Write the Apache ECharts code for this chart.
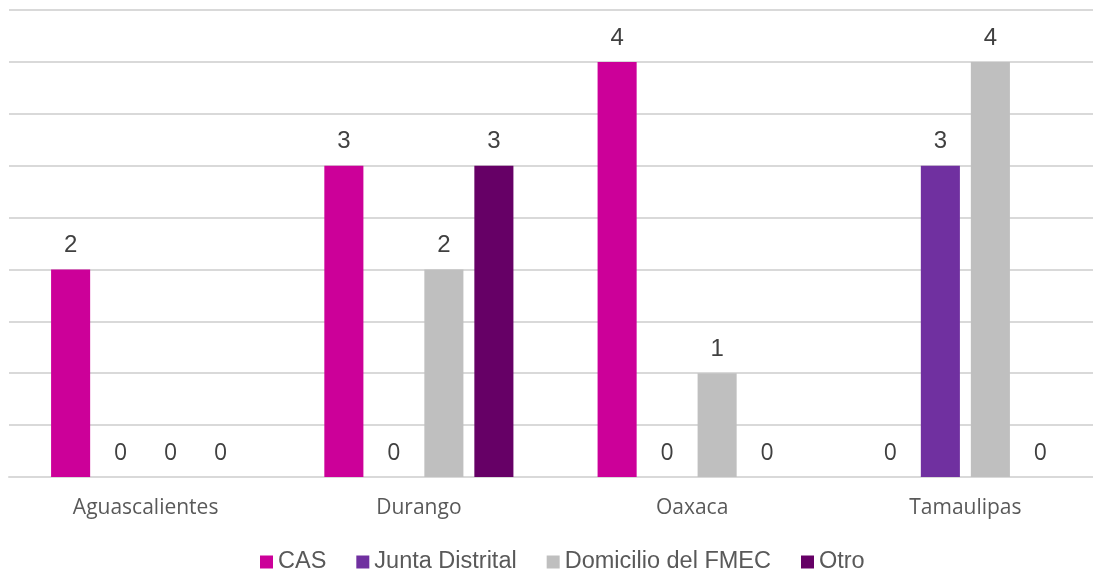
<!DOCTYPE html>
<html><head><meta charset="utf-8">
<script src="https://cdn.jsdelivr.net/npm/echarts@6/dist/echarts.min.js"></script>
<style>html,body{margin:0;padding:0;background:#fff;overflow:hidden}#c{width:1093px;height:572px}</style>
</head><body><div id="c"></div>
<script>
const categories = ["Aguascalientes", "Durango", "Oaxaca", "Tamaulipas"];
const seriesNames = ["CAS", "Junta Distrital", "Domicilio del FMEC", "Otro"];
const cas = [2, 3, 4, 0];
const junta = [0, 0, 0, 3];
const domicilio = [0, 2, 1, 4];
const otro = [0, 3, 0, 0];
const colors = ["#CC0099", "#7030A0", "#BFBFBF", "#660066"];
const values = [cas, junta, domicilio, otro];

const chart = echarts.init(document.getElementById('c'));
chart.setOption({
  animation: false,
  grid: { left: 9, width: 1093, top: 10, bottom: 95, containLabel: false, outerBoundsMode: 'none' },
  legend: {
    top: 545, left: 255,
    itemWidth: 13, itemHeight: 13, itemGap: 30,
    icon: 'rect',
    textStyle: { fontFamily: 'Liberation Sans', fontSize: 23.5, color: '#595959' },
    data: seriesNames
  },
  xAxis: {
    type: 'category', data: categories,
    axisLine: { lineStyle: { color: '#D9D9D9', width: 2 } },
    axisTick: { show: false },
    axisLabel: { fontFamily: 'Open Sans', fontSize: 21, color: '#595959', margin: 21 }
  },
  yAxis: {
    type: 'value', min: 0, max: 4.5, interval: 0.5,
    axisLabel: { show: false }, axisLine: { show: false }, axisTick: { show: false },
    splitLine: { lineStyle: { color: '#D9D9D9', width: 2 } }
  },
  series: seriesNames.map((n, i) => ({
    name: n, type: 'bar', data: values[i],
    barGap: '28%', barCategoryGap: '30.8%',
    itemStyle: { color: colors[i] },
    label: {
      show: true, position: 'top', distance: 12,
      formatter: p => p.value === 0 ? '{z|0}' : '{a|' + p.value + '}',
      rich: {
        a: { fontFamily: 'Liberation Sans', fontSize: 24, color: '#404040' },
        z: { fontFamily: 'Open Sans', fontSize: 23, color: '#404040' }
      }
    }
  }))
});
</script></body></html>
